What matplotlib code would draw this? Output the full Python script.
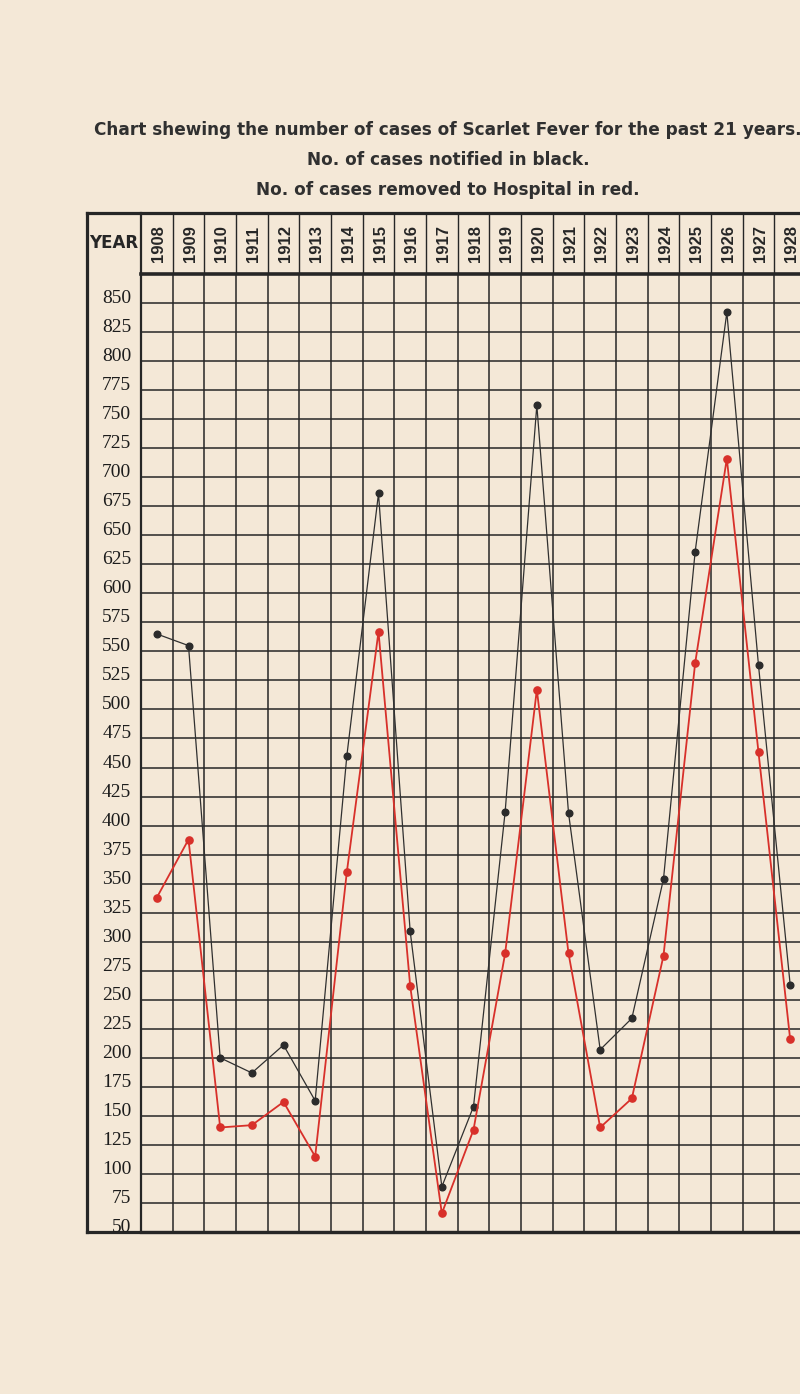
import matplotlib.pyplot as plt

# values
years = list(range(1908, 1929))
notified = [565, 555, 200, 187, 211, 163, 460, 686, 309, 89, 158,
            412, 762, 411, 207, 234, 354, 636, 842, 538, 263]
removed = [338, 388, 140, 142, 162, 115, 360, 567, 262, 66, 138,
           290, 517, 290, 140, 165, 288, 540, 716, 463, 216]
y_ticks = list(range(50, 851, 25))

title_lines = [
    "Chart shewing the number of cases of Scarlet Fever for the past 21 years.",
    "No. of cases notified in black.",
    "No. of cases removed to Hospital in red.",
]

paper = "#f4e8d7"
ink = "#262626"
red = "#d8302a"

W, H = 800, 1394


def box(x0, y0, x1, y1):
    # pixel box (top-left origin) -> figure fraction rect
    return [x0 / W, 1 - y1 / H, (x1 - x0) / W, (y1 - y0) / H]


fig = plt.figure(figsize=(W / 100, H / 100), dpi=100, facecolor=paper)

# title block
for txt, ypx in zip(title_lines, [130, 160, 190]):
    fig.text(448 / W, 1 - ypx / H, txt, ha="center", va="center",
             fontsize=12.2, fontweight="bold", color="#303030",
             family="DejaVu Sans")

# outer frame of the table
frame = fig.add_axes(box(87, 213, 808, 1232))
frame.set_facecolor("none")
frame.set_xticks([])
frame.set_yticks([])
for side in ["left", "top", "bottom"]:
    frame.spines[side].set_linewidth(2.3)
    frame.spines[side].set_color(ink)
frame.spines["right"].set_visible(False)
fig.text(114 / W, 1 - 243 / H, "YEAR", ha="center", va="center",
         fontsize=12, fontweight="bold", color=ink, family="DejaVu Sans")

edges = [i + 0.5 for i in range(len(years) - 1)]

# header row with the years
head = fig.add_axes(box(141, 213, 806, 274))
head.set_facecolor("none")
head.set_xlim(-0.5, len(years) - 0.5)
head.set_ylim(0, 1)
head.set_xticks([])
head.set_yticks([])
head.vlines(edges, 0, 1, color=ink, lw=1.0)
for side in ["right", "bottom", "top"]:
    head.spines[side].set_visible(False)
head.spines["left"].set_linewidth(1.6)
head.spines["left"].set_color(ink)
for i, yr in enumerate(years):
    head.text(i + 0.05, 0.5, str(yr), rotation=90, ha="center", va="center",
              fontsize=12, fontweight="bold", color=ink,
              family=["Liberation Sans Narrow", "Liberation Sans", "DejaVu Sans"])

# main grid
ax = fig.add_axes(box(141, 274, 806, 1232))
ax.set_facecolor("none")
ax.set_xlim(-0.5, len(years) - 0.5)
ax.set_ylim(50, 875)
ax.set_xticks(edges)
ax.tick_params(axis="x", length=0, labelbottom=False)
ax.set_yticks(y_ticks, [str(v) for v in y_ticks])
ax.tick_params(axis="y", length=0, pad=7, labelsize=14, labelcolor="#1c1c1c")
for lab in ax.get_yticklabels():
    lab.set_va("baseline")
    lab.set_family("Liberation Serif")
ax.grid(True, color=ink, lw=1.1)
ax.set_axisbelow(True)
ax.spines["right"].set_visible(False)
ax.spines["left"].set_linewidth(1.6)
ax.spines["top"].set_linewidth(2.6)
ax.spines["bottom"].set_linewidth(2.3)
for side in ["left", "top", "bottom"]:
    ax.spines[side].set_color(ink)

x = list(range(len(years)))
ax.plot(x, notified, color="#303030", lw=0.9, marker="o", ms=4.8,
        mfc="#2b2b2b", mec="#2b2b2b", zorder=3)
ax.plot(x, removed, color=red, lw=1.3, marker="o", ms=5.2,
        mfc=red, mec=red, zorder=4)

fig.savefig("out.png", dpi=100, facecolor=paper)
